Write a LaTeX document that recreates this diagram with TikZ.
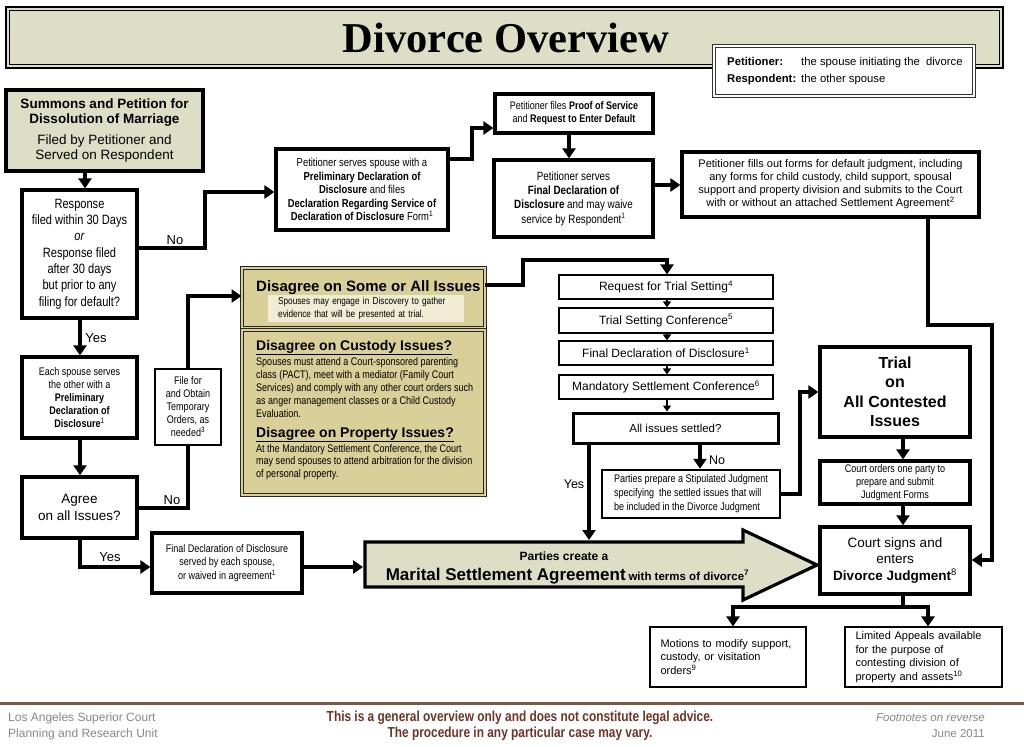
\documentclass[tikz,border=0pt]{standalone}
\usepackage{fontspec}
\setmainfont{Liberation Sans}
\newfontfamily\narrowf[FakeStretch=0.82]{Liberation Sans}
\newfontfamily\titlef{Liberation Serif}
\usetikzlibrary{arrows.meta,calc}
\newcommand\fsz[2]{\fontsize{#1}{#2}\selectfont}
\definecolor{olivefill}{RGB}{221,222,197}
\definecolor{khaki}{RGB}{217,208,153}
\definecolor{khakilt}{RGB}{240,237,212}
\definecolor{footline}{RGB}{124,86,66}
\definecolor{foottext}{RGB}{110,52,40}
\definecolor{greytext}{RGB}{135,135,135}
\tikzset{
  bx/.style={draw, line width=3.2pt, fill=white, inner sep=0pt, align=center},
  thinbx/.style={draw, line width=1.1pt, fill=white, inner sep=0pt, align=center},
  conn/.style={line width=3.3pt, line join=miter, -{Triangle[length=10pt,width=13pt]}},
  plainconn/.style={line width=3.3pt, line join=miter},
  sconn/.style={line width=1.8pt, -{Triangle[length=6pt,width=8pt]}},
  lbl/.style={font=\fsz{13}{15}, inner sep=0pt, anchor=base},
  dblbx/.style={draw=black!85, double=khaki, double distance=1.6pt, line width=0.9pt, fill=khaki, inner sep=0pt},
  txt/.style={inner sep=0pt}
}
\begin{document}
\begin{tikzpicture}[x=1pt,y=-1pt]
\useasboundingbox (0,0) rectangle (1024,746);
\fill[white] (0,0) rectangle (1024,746);

% column / row helper coordinates
\foreach \n/\v in {x80/80,x85/85,x205/205,x472/472,x523/523,x569/569,x589/589,x667/667,x700/700,x733/733,x800/800,x903/903,x928/928,x992/992}
  {\coordinate (\n) at (\v,0);}
\foreach \n/\v in {y128/128,y159/159,y185/185,y192/192,y248/248,y260/260,y285/285,y296/296,y325/325,y392/392,y494/494,y508/508,y560/560,y567/567,y607/607}
  {\coordinate (\n) at (0,\v);}

% title
\node[draw, line width=2.2pt, fill=olivefill, minimum width=997pt, minimum height=61pt, inner sep=0pt] (titlebox) at (504.5,37.5) {};
\draw[line width=1pt] ($(titlebox.north west)+(4.5,4.5)$) rectangle ($(titlebox.south east)+(-4.5,-4.5)$);
\node[txt, font=\titlef\bfseries\fsz{42.5}{44}, anchor=base] (title) at (506,53) {Divorce Overview};

% legend
\node[draw=black!80, double=white, double distance=1.6pt, line width=1pt, fill=white, minimum width=260pt, minimum height=50pt, inner sep=0pt] (legend) at (844,71) {};
\node[txt, anchor=base west, font=\bfseries\fsz{11.3}{14}] (lp) at (727,66) {Petitioner:};
\node[txt, anchor=base west, font=\fsz{11.3}{14}] (lpt) at (801,66) {the spouse initiating the\ \ divorce};
\node[txt, anchor=base west, font=\bfseries\fsz{11.3}{14}] (lr) at (727,83) {Respondent:};
\node[txt, anchor=base west, font=\fsz{11.3}{14}] (lrt) at (801,83) {the other spouse};

% left column
\node[bx, fill=olivefill, minimum width=197pt, minimum height=81pt, font=\fsz{13.5}{15}] (summons) at (104.5,130.5)
  {\textbf{Summons and Petition for}\\ \textbf{Dissolution of Marriage}\\[6pt] Filed by Petitioner and\\ Served on Respondent};
\node[bx, minimum width=115pt, minimum height=128pt, font=\narrowf\fsz{13.5}{16.3}] (response) at (79.5,254)
  {Response\\ filed within 30 Days\\ \textit{or}\\ Response filed\\ after 30 days\\ but prior to any\\ filing for default?};
\node[bx, minimum width=115pt, minimum height=81pt, font=\narrowf\fsz{11}{13}] (eachsp) at (79.5,397.5)
  {Each spouse serves\\ the other with a\\ \textbf{Preliminary}\\ \textbf{Declaration of}\\ \textbf{Disclosure}\textsuperscript{1}};
\node[bx, line width=3.5pt, minimum width=115pt, minimum height=61pt, font=\fsz{13.5}{17}] (agree) at (79.5,507.5)
  {Agree\\ on all Issues?};
\node[thinbx, minimum width=66pt, minimum height=76pt, font=\narrowf\fsz{11}{13}] (filefor) at (188,407)
  {File for\\ and Obtain\\ Temporary\\ Orders, as\\ needed\textsuperscript{3}};
\node[bx, minimum width=150pt, minimum height=60pt, font=\narrowf\fsz{11}{13.5}] (finalserved) at (227,563)
  {Final Declaration of Disclosure\\ served by each spouse,\\ or waived in agreement\textsuperscript{1}};

% top row
\node[bx, minimum width=172pt, minimum height=81pt, font=\narrowf\fsz{11.5}{13.5}] (petserve) at (362,189.5)
  {Petitioner serves spouse with a\\ \textbf{Preliminary Declaration of}\\ \textbf{Disclosure} and files\\ \textbf{Declaration Regarding Service of}\\ \textbf{Declaration of Disclosure} Form\textsuperscript{1}};
\node[bx, minimum width=158pt, minimum height=39pt, font=\narrowf\fsz{11}{13}] (proof) at (574,113.5)
  {Petitioner files \textbf{Proof of Service}\\ and \textbf{Request to Enter Default}};
\node[bx, minimum width=159pt, minimum height=77pt, font=\narrowf\fsz{12}{14.3}] (finaldecl) at (573.5,198.5)
  {Petitioner serves\\ \textbf{Final Declaration of}\\ \textbf{Disclosure} and may waive\\ service by Respondent\textsuperscript{1}};
\node[bx, minimum width=297pt, minimum height=65pt, font=\fsz{11}{13}] (default) at (830.5,184.5)
  {Petitioner fills out forms for default judgment, including\\ any forms for child custody, child support, spousal\\ support and property division and submits to the Court\\ with or without an attached Settlement Agreement\textsuperscript{2}};

% disagree boxes
\node[dblbx, minimum width=243pt, minimum height=60pt] (disA) at (363.5,298) {};
\node[txt, anchor=base west, font=\bfseries\fsz{15}{17}] (disAh) at (256,291.5) {Disagree on Some or All Issues};
\node[fill=khakilt, anchor=north west, inner xsep=10pt, inner ysep=2.5pt, text width=176pt, align=left, font=\narrowf\fsz{10}{12.5}] (disc) at (268,295)
  {Spouses may engage in Discovery to gather\\ evidence that will be presented at trial.};
\node[dblbx, minimum width=243pt, minimum height=165pt] (disB) at (363.5,412.5) {};
\node[txt, anchor=base west, font=\bfseries\fsz{14}{16}] (disBh1) at (256,350) {\underline{Disagree on Custody Issues?}};
\node[txt, anchor=north west, align=left, font=\narrowf\fsz{11}{13}] (disBt1) at (256,357)
  {Spouses must attend a Court-sponsored parenting\\ class (PACT), meet with a mediator (Family Court\\ Services) and comply with any other court orders such\\ as anger management classes or a Child Custody\\ Evaluation.};
\node[txt, anchor=base west, font=\bfseries\fsz{14}{16}] (disBh2) at (256,437) {\underline{Disagree on Property Issues?}};
\node[txt, anchor=north west, align=left, font=\narrowf\fsz{11}{12.7}] (disBt2) at (256,444)
  {At the Mandatory Settlement Conference, the Court\\ may send spouses to attend arbitration for the division\\ of personal property.};

% trial setting column
\node[thinbx, minimum width=214pt, minimum height=24pt, font=\fsz{12}{14}] (request) at (666,287) {Request for Trial Setting\textsuperscript{4}};
\node[thinbx, minimum width=214pt, minimum height=25pt, font=\fsz{12}{14}] (trialset) at (666,320.5) {Trial Setting Conference\textsuperscript{5}};
\node[thinbx, minimum width=214pt, minimum height=24pt, font=\fsz{12}{14}] (finaldisc) at (666,353) {Final Declaration of Disclosure\textsuperscript{1}};
\node[thinbx, minimum width=214pt, minimum height=24pt, font=\fsz{12}{14}] (mandatory) at (666,387) {Mandatory Settlement Conference\textsuperscript{6}};
\node[bx, line width=3pt, minimum width=205pt, minimum height=30pt, font=\fsz{11.5}{13}] (allset) at (675.5,428) {All issues settled?};
\node[draw, line width=2.5pt, fill=white, inner sep=0pt, align=left, minimum width=178pt, minimum height=48pt, font=\narrowf\fsz{11}{14}] (stip) at (691,494)
  {Parties prepare a Stipulated Judgment\\ specifying\ \ the settled issues that will\\ be included in the Divorce Judgment};

% right column
\node[bx, minimum width=150pt, minimum height=90pt, font=\bfseries\fsz{16}{19.5}] (trial) at (895,392) {Trial\\ on\\ All Contested\\ Issues};
\node[bx, minimum width=150pt, minimum height=43pt, font=\narrowf\fsz{11}{13}] (courtord) at (895,482.5) {Court orders one party to\\ prepare and submit\\ Judgment Forms};
\node[bx, line width=3.5pt, minimum width=150pt, minimum height=67pt, font=\fsz{13.5}{16.5}] (courtsign) at (895,560.5) {Court signs and\\ enters\\ \textbf{Divorce Judgment}\textsuperscript{8}};
\node[thinbx, inner xsep=10.5pt, text width=135pt, align=left, minimum height=60pt, font=\fsz{11}{13.5}] (motions) at (728,657) {Motions to modify support,\\ custody, or visitation\\ orders\textsuperscript{9}};
\node[thinbx, inner xsep=10.5pt, text width=136pt, align=left, minimum height=60pt, font=\fsz{11}{13.5}] (limited) at (923.5,657) {Limited Appeals available\\ for the purpose of\\ contesting division of\\ property and assets\textsuperscript{10}};

% marital settlement agreement arrow
\draw[line width=3.2pt, line join=miter, fill=olivefill] (365,542) -- (743,542) -- (743,530) -- (817,565) -- (743,600) -- (743,587) -- (365,587) -- cycle;
\coordinate (msaN) at (589,540);
\coordinate (msaW) at (363,567);
\node[txt, anchor=base, font=\bfseries\fsz{12}{14}] (msa1) at (564,560) {Parties create a};
\node[txt, anchor=base] (msa2) at (567.5,580) {{\bfseries\fsz{17}{19}Marital Settlement Agreement} {\bfseries\fsz{11.5}{14}with terms of divorce\textsuperscript{7}}};

% connectors
\draw[conn] (summons.south -| x85) -- (response.north -| x85);
\draw[conn] (response.east |- y248) -- (x205 |- y248) -- (x205 |- y192) -- (petserve.west |- y192);
\draw[conn] (petserve.east |- y159) -- (x472 |- y159) -- (x472 |- y128) -- (proof.west |- y128);
\draw[conn] (proof.south -| x569) -- (finaldecl.north -| x569);
\draw[conn] (finaldecl.east |- y185) -- (default.west |- y185);
\draw[conn] (default.south -| x928) -- (x928 |- y325) -- (x992 |- y325) -- (x992 |- y560) -- (courtsign.east |- y560);
\draw[conn] (response.south -| x80) -- (eachsp.north -| x80);
\draw[conn] (eachsp.south -| x80) -- (agree.north -| x80);
\draw[plainconn] (agree.east |- y508) -| (filefor.south);
\draw[conn] (filefor.north) |- (disA.west |- y296);
\draw[conn] (disA.east |- y285) -- (x523 |- y285) -- (x523 |- y260) -| (request.north -| x667);
\draw[sconn] (request.south -| x667) -- (trialset.north -| x667);
\draw[sconn] (trialset.south -| x667) -- (finaldisc.north -| x667);
\draw[sconn] (finaldisc.south -| x667) -- (mandatory.north -| x667);
\draw[sconn] (mandatory.south -| x667) -- (allset.north -| x667);
\draw[conn] (allset.south -| x589) -- (msaN);
\draw[conn] (allset.south -| x700) -- (stip.north -| x700);
\draw[conn] (stip.east |- y494) -- (x800 |- y494) |- (trial.west |- y392);
\draw[conn] (trial.south -| x903) -- (courtord.north -| x903);
\draw[conn] (courtord.south -| x903) -- (courtsign.north -| x903);
\draw[conn] (courtsign.south -| x903) -- (x903 |- y607) -| (motions.north -| x733);
\draw[conn] (x903 |- y607) -| (limited.north -| x928);
\draw[conn] (agree.south -| x80) |- (finalserved.west |- y567);
\draw[conn] (finalserved.east |- y567) -- (msaW);

% connector labels
\node[lbl] (lno1) at (175,244) {No};
\node[lbl] (lyes1) at (96,342) {Yes};
\node[lbl] (lno2) at (172,504) {No};
\node[lbl] (lyes2) at (110,561) {Yes};
\node[lbl, font=\fsz{12.5}{14}] (lyes3) at (574,488) {Yes};
\node[lbl, font=\fsz{12.5}{14}] (lno3) at (717,464) {No};

% footer
\draw[footline, line width=3.2pt] (0,703.5) -- (1024,703.5);
\node[txt, anchor=base west, text=greytext, font=\fsz{12}{14}] (f1) at (8,721) {Los Angeles Superior Court};
\node[txt, anchor=base west, text=greytext, font=\fsz{12}{14}] (f2) at (8,737) {Planning and Research Unit};
\node[txt, anchor=base, text=foottext, font=\narrowf\bfseries\fsz{14.5}{16}] (f3) at (520,721) {This is a general overview only and does not constitute legal advice.};
\node[txt, anchor=base, text=foottext, font=\narrowf\bfseries\fsz{14.5}{16}] (f4) at (520,737) {The procedure in any particular case may vary.};
\node[txt, anchor=base east, text=greytext, font=\itshape\fsz{11.5}{14}] (f5) at (985,721) {Footnotes on reverse};
\node[txt, anchor=base east, text=greytext, font=\fsz{11.5}{14}] (f6) at (985,737) {June 2011};
\end{tikzpicture}
\end{document}
